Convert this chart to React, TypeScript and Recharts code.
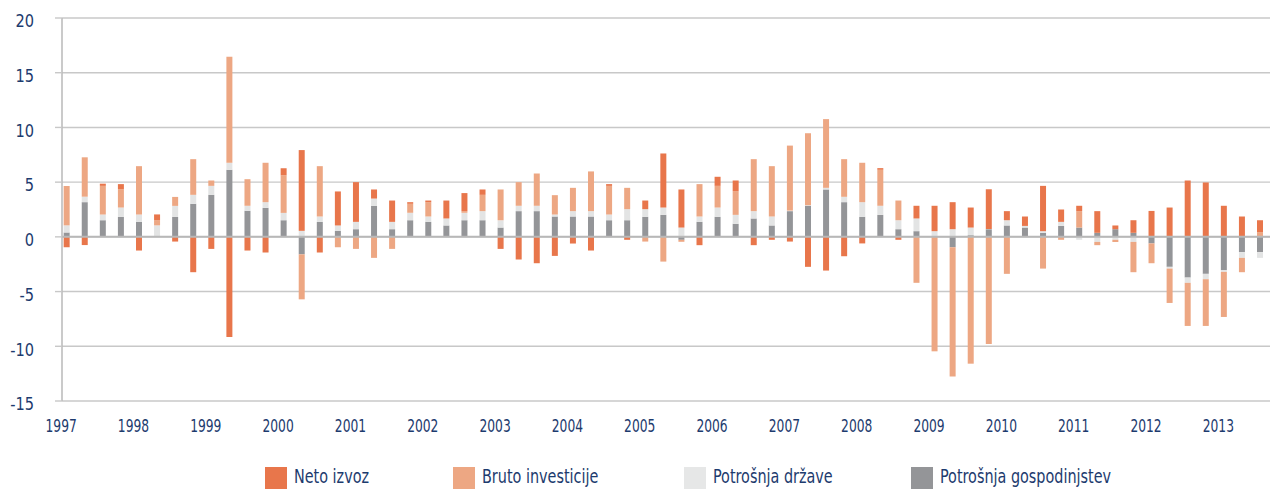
import React from 'react';
import { BarChart, Bar, XAxis, YAxis, CartesianGrid, ReferenceLine } from 'recharts';

const years = [1997, 1998, 1999, 2000, 2001, 2002, 2003, 2004, 2005, 2006, 2007, 2008, 2009, 2010, 2011, 2012, 2013];

// Potrošnja gospodinjstev
const households = [
  0.4, 3.17, 1.52, 1.83, 1.37, 0.05, 1.83, 3.02, 3.84, 6.13, 2.38, 2.65, 1.52, -1.6, 1.37, 0.55,
  0.7, 2.84, 0.7, 1.52, 1.37, 1.04, 1.52, 1.52, 0.85, 2.35, 2.35, 1.86, 1.86, 1.86, 1.52, 1.52,
  1.83, 2.01, -0.27, 1.37, 1.83, 1.19, 1.68, 1.04, 2.35, 2.84, 4.33, 3.17, 1.83, 2.01, 0.7, 0.52,
  0, -0.95, 0.15, 0.7, 1.04, 0.85, 0.37, 1.0, 0.85, 0.37, 0.7, 0.37, -0.6, -2.74, -3.72, -3.38,
  -3.05, -1.4, -1.4,
];
// Potrošnja države
const government = [
  0.65, 0.5, 0.52, 0.85, 0.67, 1.0, 1.0, 0.82, 0.82, 0.64, 0.46, 0.52, 0.67, 0.55, 0.49, 0.49,
  0.67, 0.66, 0.67, 0.68, 0.49, 0.64, 0.68, 0.83, 0.67, 0.49, 0.49, 0.18, 0.49, 0.49, 0.52, 1.01,
  0.7, 0.67, 0.85, 0.49, 0.85, 0.82, 0.67, 0.82, 0.05, 0.05, 0.15, 0.49, 1.34, 0.83, 0.82, 1.16,
  0.52, 0.7, 0.7, 0.02, 0.48, 0.15, 0.15, 0.37, -0.27, -0.46, -0.27, -0.46, 0.02, -0.16, -0.48, -0.49,
  -0.15, -0.52, -0.52,
];
// Bruto investicije
const investment = [
  3.6, 3.6, 2.62, 1.68, 4.42, 0.48, 0.82, 3.26, 0.49, 9.69, 2.43, 3.6, 3.44, -4.11, 4.6, -0.95,
  -1.1, -1.92, -1.1, 0.82, 1.31, 0, 0.15, 1.49, 2.81, 2.16, 2.95, 1.77, 2.13, 3.63, 2.62, 1.95,
  -0.43, -2.26, -0.18, 2.96, 1.98, 2.17, 4.75, 4.6, 5.94, 6.58, 6.28, 3.44, 3.6, 3.29, 1.8, -4.2,
  -10.46, -11.8, -11.59, -9.79, -3.38, 0, -2.9, -0.27, 1.5, -0.3, -0.2, -2.77, -1.81, -3.14, -3.94, -4.27,
  -4.12, -1.31, 0.43,
];
// Neto izvoz
const netExports = [
  -0.95, -0.75, 0.2, 0.46, -1.25, 0.52, -0.43, -3.23, -1.1, -9.15, -1.25, -1.43, 0.64, 7.38, -1.43, 3.11,
  3.63, 0.83, 1.95, 0.15, 0.15, 1.64, 1.65, 0.49, -1.1, -2.07, -2.41, -1.74, -0.61, -1.25, 0.16, -0.27,
  0.79, 4.94, 3.48, -0.76, 0.83, 0.97, -0.76, -0.27, -0.43, -2.74, -3.08, -1.77, -0.6, 0.15, -0.27, 1.16,
  2.32, 2.47, 1.83, 3.63, 0.83, 0.86, 4.14, 1.13, 0.49, 1.98, 0.34, 1.15, 2.35, 2.68, 5.15, 4.97,
  2.84, 1.86, 1.09,
];

const yTicks = [-15, -10, -5, 0, 5, 10, 15, 20];

const data = households.map((hh, i) => ({
  x: i,
  quarter: `${years[Math.floor(i / 4)]}Q${(i % 4) + 1}`,
  hh,
  gov: government[i],
  inv: investment[i],
  nx: netExports[i],
}));

const xTicks = years.map((_, k) => k * 4 - 0.28);

const navy = '#1d3b6e';
const font = '"Liberation Sans Narrow", "DejaVu Sans Condensed", "Roboto Condensed", sans-serif';

const colors = {
  nx: '#e8764b',
  inv: '#eda783',
  gov: '#e3e4e4',
  hh: '#949598',
};

const legendItems = [
  { label: 'Neto izvoz', color: colors.nx, left: 265 },
  { label: 'Bruto investicije', color: colors.inv, left: 453 },
  { label: 'Potrošnja države', color: '#e6e7e7', left: 684 },
  { label: 'Potrošnja gospodinjstev', color: colors.hh, left: 911 },
];

// narrow the condensed font a bit more, the original uses a very narrow face
const YTick = (props: any) => {
  const { x, y, payload } = props;
  return (
    <text
      transform={`translate(${x},${y + 4}) scale(0.9,1)`}
      textAnchor="end"
      dominantBaseline="middle"
      fill={navy}
      fontSize={18}
      fontFamily={font}
    >
      {payload.value}
    </text>
  );
};

const XTick = (props: any) => {
  const { x, payload } = props;
  const k = Math.round((payload.value + 0.28) / 4);
  return (
    <text
      transform={`translate(${x - 0.5},432) scale(0.78,1)`}
      textAnchor="middle"
      fill={navy}
      fontSize={17.5}
      fontFamily={font}
    >
      {years[k]}
    </text>
  );
};

export default function App() {
  return (
    <div style={{ position: 'absolute', left: 0, top: 0, width: 1270, height: 489, overflow: 'hidden', background: '#fff', fontFamily: font }}>
      <BarChart
        width={1270}
        height={489}
        data={data}
        stackOffset="sign"
        margin={{ top: 18, right: 0, left: 0, bottom: 48 }}
      >
        <CartesianGrid vertical={false} stroke="#c8c8c8" strokeWidth={1.4} />
        <XAxis
          dataKey="x"
          type="number"
          domain={[-0.26, 66.55]}
          allowDataOverflow
          ticks={xTicks}
          interval={0}
          axisLine={false}
          tickLine={false}
          height={40}
          tick={<XTick />}
        />
        <YAxis
          domain={[-15, 20]}
          ticks={yTicks}
          interval={0}
          width={62}
          axisLine={{ stroke: '#bdbdbd', strokeWidth: 1.6 }}
          tickLine={{ stroke: '#c8c8c8', strokeWidth: 1.4 }}
          tickSize={7}
          tickMargin={21}
          tick={<YTick />}
        />
        <Bar dataKey="hh" stackId="a" fill={colors.hh} barSize={6} isAnimationActive={false} />
        <Bar dataKey="gov" stackId="a" fill={colors.gov} barSize={6} isAnimationActive={false} />
        <Bar dataKey="inv" stackId="a" fill={colors.inv} barSize={6} isAnimationActive={false} />
        <Bar dataKey="nx" stackId="a" fill={colors.nx} barSize={6} isAnimationActive={false} />
        <ReferenceLine y={0} stroke="#b8b8b8" strokeWidth={2} />
      </BarChart>
      {legendItems.map((item) => (
        <div key={item.label} style={{ position: 'absolute', left: item.left, top: 467, height: 22, display: 'flex', alignItems: 'flex-start' }}>
          <div style={{ width: 22, height: 22, background: item.color }} />
          <span
            style={{
              marginLeft: 7,
              marginTop: -1,
              fontSize: 19.5,
              lineHeight: '22px',
              color: navy,
              whiteSpace: 'nowrap',
              display: 'inline-block',
              transform: 'scaleX(0.82)',
              transformOrigin: 'left center',
            }}
          >
            {item.label}
          </span>
        </div>
      ))}
    </div>
  );
}
